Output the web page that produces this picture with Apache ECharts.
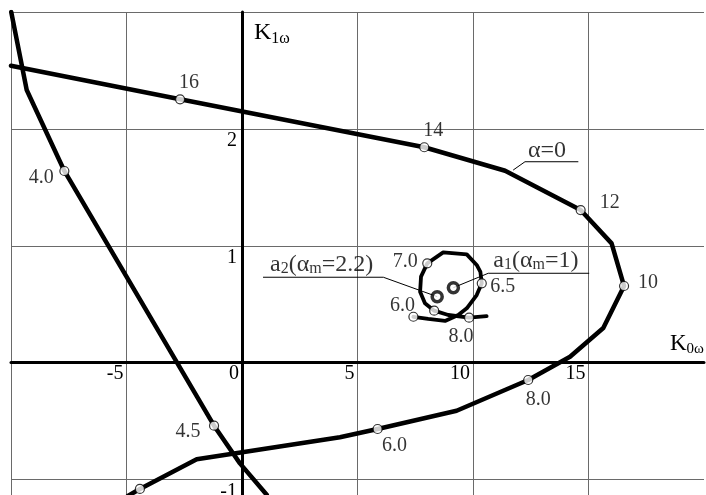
<!DOCTYPE html>
<html>
<head>
<meta charset="utf-8">
<script src="https://cdn.jsdelivr.net/npm/echarts@6/dist/echarts.min.js"></script>
<style>
  html, body { margin: 0; padding: 0; background: #fff; }
  #chart { width: 706px; height: 495px; }
</style>
</head>
<body>
<div id="chart"></div>
<script>
// Hodograph for α = 0 (K0ω, K1ω) with frequency marks
const alpha0X = [-10.0, -2.68, 7.89, 11.39, 14.66, 16.0, 16.54, 15.64, 14.2, 12.39, 9.29, 5.87, 4.24, -1.96, -4.42, -4.94];
const alpha0Y = [2.54, 2.253, 1.843, 1.642, 1.306, 1.021, 0.656, 0.297, 0.051, -0.148, -0.411, -0.567, -0.638, -0.826, -1.08, -1.14];
const alpha0Freq = [null, '16', '14', null, '12', null, '10', null, null, '8.0', null, '6.0', null, null, '4.0', null];

// Steep branch
const steepX = [-9.99, -9.32, -7.69, -1.21, -0.09, 1.07];
const steepY = [3.0, 2.333, 1.64, -0.539, -0.861, -1.13];
const steepFreq = [null, null, '4.0', '4.5', null, null];

// Small loop (a1 / a2 hodographs)
const loopX = [7.42, 8.06, 8.79, 9.36, 9.73, 10.16, 10.38, 10.32, 10.16, 9.73, 8.71, 8.02, 7.75, 7.71, 7.92, 8.32, 8.93, 9.83, 10.59];
const loopY = [0.393, 0.374, 0.357, 0.408, 0.465, 0.579, 0.679, 0.776, 0.836, 0.927, 0.944, 0.850, 0.736, 0.607, 0.508, 0.445, 0.408, 0.385, 0.399];
const loopFreq = ['6.0', null, null, null, null, null, '6.5', null, null, null, null, '7.0', null, null, null, '', null, '8.0', null];

// Limit points of a1 and a2
const limitNames = ['a1', 'a2'];
const limitX = [9.15, 8.45];
const limitY = [0.642, 0.565];

// Callout leaders: α=0, a1, a2
const leaderAlpha0X = [11.74, 12.25, 14.56];
const leaderAlpha0Y = [1.648, 1.719, 1.719];
const leaderA1X = [9.15, 10.66, 15.03];
const leaderA1Y = [0.642, 0.765, 0.765];
const leaderA2X = [8.45, 6.12, 0.91];
const leaderA2Y = [0.565, 0.731, 0.731];

// Axis ranges and tick labels
const xRange = [-10, 20];
const yRange = [-2, 3];
const xTickLabels = [-5, 0, 5, 10, 15];
const yTickLabels = [-1, 1, 2];

// Label offsets (pixels) for the frequency marks, by series and label
const labelOffsets = {
  alpha0: { '16': [9, -17], '14': [9, -17], '12': [29, -7], '10': [24, -3], '8.0': [10, 20], '6.0': [17, 17], '4.0': [17, 17] },
  steep: { '4.0': [-23, 7], '4.5': [-26, 6] },
  loop: { '6.0': [-11, -11], '6.5': [21, 3], '7.0': [-22, -2], '8.0': [-8, 19] }
};

const FONT = 'Liberation Serif';
const W = 706, H = 495;
const grid = { left: 11, right: 2, top: 12, bottom: -101.5 };

// Move both axes (line and labels) onto the zero crossings
const plotW = W - grid.left - grid.right;
const plotH = H - grid.top - grid.bottom;
const zeroPx = grid.left + plotW * (0 - xRange[0]) / (xRange[1] - xRange[0]);
const zeroPy = grid.top + plotH * (yRange[1] - 0) / (yRange[1] - yRange[0]);
const yAxisOffset = -(zeroPx - grid.left);
const xAxisOffset = -((grid.top + plotH) - zeroPy);

function pairs(xs, ys) { return xs.map((x, i) => [x, ys[i]]); }

function marks(xs, ys, freq, key) {
  const out = [];
  freq.forEach((f, i) => {
    if (f === null) return;
    const off = labelOffsets[key][f] || [0, 0];
    out.push({
      value: [xs[i], ys[i]],
      label: { show: f !== '', formatter: f, offset: off }
    });
  });
  return out;
}

const curveLine = (data, w) => ({
  type: 'line', data, symbol: 'none', silent: true, z: 3,
  lineStyle: { color: '#000', width: w, join: 'round', cap: 'round' }
});
const leader = (data) => ({
  type: 'line', data, symbol: 'none', silent: true, z: 2,
  lineStyle: { color: '#000', width: 1 }
});
const markSeries = (data) => ({
  type: 'scatter', data, symbol: 'circle', symbolSize: 9, silent: true, z: 6,
  itemStyle: { color: '#fff', borderColor: '#000', borderWidth: 1.2 },
  label: { position: 'inside', align: 'center', verticalAlign: 'middle', fontFamily: FONT, fontSize: 20, color: '#000' }
});

const richSub = {
  t: { fontFamily: FONT, fontSize: 24, lineHeight: 26, color: '#000' },
  s: { fontFamily: FONT, fontSize: 16, lineHeight: 12, verticalAlign: 'bottom', color: '#000' }
};

const chart = echarts.init(document.getElementById('chart'));
chart.setOption({
  animation: false,
  backgroundColor: '#fff',
  grid: Object.assign({ outerBoundsMode: 'none' }, grid),
  xAxis: {
    type: 'value', min: xRange[0], max: xRange[1], interval: 5,
    offset: xAxisOffset,
    name: '{k|K}{s|0ω}', nameLocation: 'end', nameGap: -34, nameMoveOverlap: false,
    nameTextStyle: {
      align: 'left', verticalAlign: 'bottom', padding: [0, 0, 6, 0],
      rich: {
        k: { fontFamily: FONT, fontSize: 23, lineHeight: 26, color: '#000' },
        s: { fontFamily: FONT, fontSize: 15, lineHeight: 10, verticalAlign: 'bottom', color: '#000' }
      }
    },
    axisLine: { onZero: false, lineStyle: { color: '#000', width: 3 } },
    axisTick: { show: false },
    splitLine: { show: true, showMaxLine: false, lineStyle: { color: '#6a6a6a', width: 1 } },
    axisLabel: {
      formatter: v => xTickLabels.includes(v) ? String(v) : '',
      align: 'right', margin: 1, padding: [0, 3, 0, 0],
      fontFamily: FONT, fontSize: 20, color: '#000'
    }
  },
  yAxis: {
    type: 'value', min: yRange[0], max: yRange[1], interval: 1,
    offset: yAxisOffset,
    name: '{k|K}{s|1ω}', nameLocation: 'end', nameGap: -7, nameMoveOverlap: false,
    nameTextStyle: {
      align: 'left', verticalAlign: 'top', padding: [0, 0, 0, 12],
      rich: {
        k: { fontFamily: FONT, fontSize: 24, lineHeight: 28, color: '#000' },
        s: { fontFamily: FONT, fontSize: 16, lineHeight: 10, verticalAlign: 'bottom', color: '#000' }
      }
    },
    axisLine: { onZero: false, lineStyle: { color: '#000', width: 3 } },
    axisTick: { show: false },
    splitLine: { show: true, lineStyle: { color: '#6a6a6a', width: 1 } },
    axisLabel: {
      formatter: v => yTickLabels.includes(v) ? String(v) : '',
      align: 'right', verticalAlign: 'top', margin: 5, padding: [2, 0, 0, 0],
      fontFamily: FONT, fontSize: 20, color: '#000'
    }
  },
  series: [
    leader(pairs(leaderAlpha0X, leaderAlpha0Y)),
    leader(pairs(leaderA1X, leaderA1Y)),
    leader(pairs(leaderA2X, leaderA2Y)),
    curveLine(pairs(alpha0X, alpha0Y), 4.5),
    curveLine(pairs(steepX, steepY), 4.5),
    curveLine(pairs(loopX, loopY), 3.8),
    markSeries(marks(alpha0X, alpha0Y, alpha0Freq, 'alpha0')),
    markSeries(marks(steepX, steepY, steepFreq, 'steep')),
    markSeries(marks(loopX, loopY, loopFreq, 'loop')),
    {
      type: 'scatter', silent: true, z: 7, symbol: 'circle', symbolSize: 10,
      itemStyle: { color: '#fff', borderColor: '#000', borderWidth: 3.5 },
      data: limitNames.map((n, i) => ({ name: n, value: [limitX[i], limitY[i]] }))
    },
    {
      // callout captions sitting on the leader underlines
      type: 'scatter', silent: true, z: 8, symbolSize: 0,
      label: { show: true, position: 'top', align: 'left', verticalAlign: 'bottom', distance: 0, rich: richSub },
      data: [
        { value: [leaderAlpha0X[1], leaderAlpha0Y[1]], label: { formatter: '{t|α=0}', offset: [3, 1], rich: { t: { fontFamily: FONT, fontSize: 24, lineHeight: 24, color: '#000' } } } },
        { value: [leaderA1X[1], leaderA1Y[1]], label: { formatter: '{t|a}{s|1}{t|(α}{s|m}{t|=1)}', offset: [5, 0] } },
        { value: [leaderA2X[2], leaderA2Y[2]], label: { formatter: '{t|a}{s|2}{t|(α}{s|m}{t|=2.2)}', offset: [7, 0] } }
      ]
    }
  ]
});
</script>
</body>
</html>
